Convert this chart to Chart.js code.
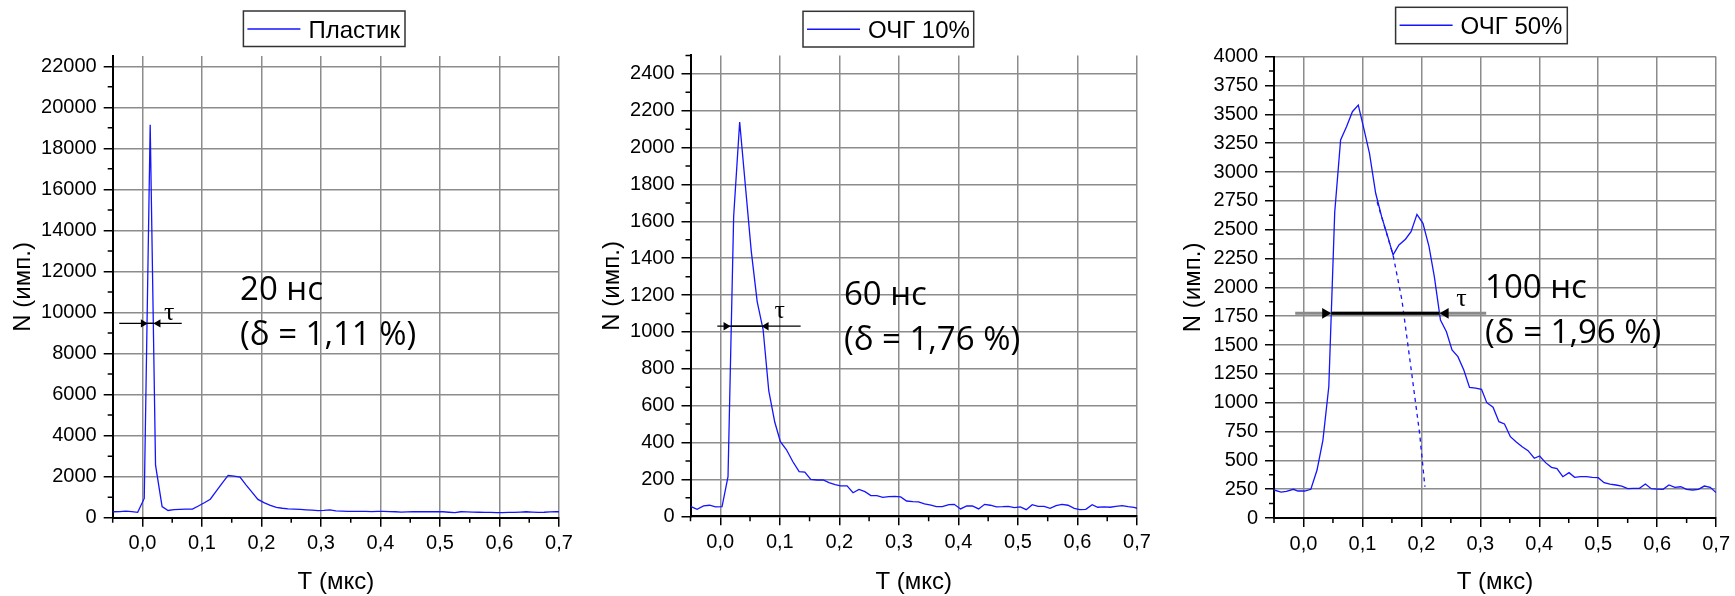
<!DOCTYPE html>
<html>
<head>
<meta charset="utf-8">
<script src="https://cdn.jsdelivr.net/npm/chart.js@4.4.1/dist/chart.umd.min.js"></script>
<style>
  body { margin: 0; background: #fff; width: 1735px; height: 596px; position: relative; overflow: hidden; }
  .box { position: absolute; top: 0; height: 596px; }
</style>
</head>
<body>
<div class="box" style="left:0;width:580px"><canvas id="c1" width="580" height="596"></canvas></div>
<div class="box" style="left:589px;width:570px"><canvas id="c2" width="570" height="596"></canvas></div>
<div class="box" style="left:1170px;width:565px"><canvas id="c3" width="565" height="596"></canvas></div>
<script>
// время, мкс / счёт, имп.
const t1 = [-0.049, -0.038, -0.028, -0.018, -0.008, 0.003, 0.013, 0.022, 0.033, 0.043,
  0.053, 0.063, 0.073, 0.084, 0.094, 0.104, 0.114, 0.124, 0.134, 0.144,
  0.154, 0.164, 0.174, 0.184, 0.194, 0.205, 0.215, 0.225, 0.235, 0.245,
  0.255, 0.265, 0.275, 0.285, 0.295, 0.305, 0.315, 0.325, 0.335, 0.345,
  0.355, 0.365, 0.375, 0.385, 0.395, 0.405, 0.415, 0.425, 0.435, 0.445,
  0.455, 0.465, 0.475, 0.485, 0.495, 0.505, 0.515, 0.525, 0.535, 0.545,
  0.555, 0.565, 0.575, 0.585, 0.595, 0.605, 0.615, 0.625, 0.635, 0.645,
  0.655, 0.665, 0.675, 0.685, 0.695, 0.7];
const n1 = [290, 300, 325, 300, 260, 940, 19150, 2560, 540, 350,
  390, 405, 415, 420, 570, 730, 900, 1290, 1680, 2060,
  2030, 1980, 1600, 1250, 890, 720, 600, 500, 460, 430,
  420, 405, 385, 370, 345, 355, 385, 330, 320, 310,
  305, 310, 305, 300, 305, 310, 300, 290, 275, 285,
  290, 290, 295, 290, 295, 290, 265, 245, 290, 280,
  275, 265, 260, 255, 250, 245, 255, 260, 275, 290,
  275, 260, 265, 280, 290, 290];

const t2 = [-0.049, -0.039, -0.028, -0.018, -0.008, 0.003, 0.013, 0.0225, 0.0326, 0.042,
  0.052, 0.062, 0.072, 0.0815, 0.0916, 0.101, 0.111, 0.122, 0.1325, 0.142,
  0.152, 0.163, 0.173, 0.1825, 0.193, 0.202, 0.213, 0.223, 0.233, 0.243,
  0.253, 0.263, 0.273, 0.283, 0.293, 0.303, 0.313, 0.3235, 0.333, 0.343,
  0.354, 0.363, 0.373, 0.384, 0.393, 0.4036, 0.414, 0.4235, 0.434, 0.444,
  0.4536, 0.464, 0.474, 0.484, 0.494, 0.504, 0.514, 0.524, 0.534, 0.544,
  0.554, 0.564, 0.574, 0.584, 0.5946, 0.604, 0.614, 0.6247, 0.634, 0.6446,
  0.655, 0.6645, 0.675, 0.685, 0.695, 0.702];
const n2 = [52, 38, 56, 60, 51, 52, 215, 1628, 2139, 1800,
  1440, 1165, 1012, 680, 510, 405, 362, 296, 242, 240,
  200, 197, 197, 183, 172, 165, 165, 128, 146, 134,
  112, 112, 103, 107, 108, 105, 83, 80, 78, 67,
  61, 52, 52, 63, 65, 40, 56, 56, 40, 65,
  60, 51, 52, 54, 47, 51, 36, 63, 54, 54,
  43, 58, 65, 60, 43, 36, 38, 63, 49, 51,
  49, 54, 58, 52, 48, 42];

const t3 = [-0.05, -0.038, -0.029, -0.017, -0.0095, 0.002, 0.0125, 0.023, 0.033, 0.043,
  0.053, 0.063, 0.073, 0.083, 0.093, 0.103, 0.112, 0.1225, 0.1326, 0.143,
  0.152, 0.162, 0.173, 0.1825, 0.1925, 0.2027, 0.213, 0.222, 0.2324, 0.2425,
  0.252, 0.262, 0.272, 0.2817, 0.292, 0.302, 0.311, 0.3216, 0.3316, 0.341,
  0.351, 0.361, 0.371, 0.381, 0.3916, 0.4006, 0.4107, 0.4207, 0.430, 0.440,
  0.4505, 0.46, 0.47, 0.48, 0.49, 0.50, 0.51, 0.52, 0.53, 0.54,
  0.55, 0.56, 0.57, 0.58, 0.59, 0.60, 0.61, 0.62, 0.63, 0.64,
  0.65, 0.66, 0.67, 0.68, 0.69, 0.70];
const n3 = [243, 225, 231, 249, 234, 234, 249, 416, 676, 1140,
  2650, 3278, 3393, 3523, 3581, 3364, 3162, 2816, 2613, 2440,
  2281, 2367, 2417, 2483, 2633, 2555, 2353, 2093, 1717, 1615,
  1457, 1399, 1283, 1133, 1127, 1116, 1000, 960, 835, 815,
  705, 659, 618, 584, 518, 538, 480, 439, 428, 358,
  393, 353, 358, 358, 353, 350, 306, 294, 286, 277,
  254, 257, 257, 294, 254, 251, 249, 286, 266, 271,
  249, 243, 249, 277, 266, 220];
// продолжение спада первого пика (пунктир)
const tFit3 = [0.125, 0.152, 0.167, 0.185, 0.197, 0.206];
const nFit3 = [2740, 2281, 1890, 1200, 734, 271];

const xTicks = [0, 0.1, 0.2, 0.3, 0.4, 0.5, 0.6, 0.7];
const yTicks1 = [0, 2000, 4000, 6000, 8000, 10000, 12000, 14000, 16000, 18000, 20000, 22000];
const yTicks2 = [0, 200, 400, 600, 800, 1000, 1200, 1400, 1600, 1800, 2000, 2200, 2400];
const yTicks3 = [0, 250, 500, 750, 1000, 1250, 1500, 1750, 2000, 2250, 2500, 2750, 3000, 3250, 3500, 3750, 4000];

const BLUE = '#1414ff';
const pts = (t, n) => t.map((v, i) => ({ x: v, y: n[i] }));
const mids = a => a.slice(1).map((v, i) => (v + a[i]) / 2);

Chart.defaults.font.family = "'Liberation Sans', Arial, sans-serif";
Chart.defaults.color = '#000';

// рамка легенды как в Origin
const boxLegend = {
  id: 'boxLegend',
  afterDraw(chart, args, o) {
    const ctx = chart.ctx;
    const ds = chart.data.datasets[0];
    ctx.save();
    ctx.strokeStyle = '#333';
    ctx.lineWidth = 1.5;
    ctx.strokeRect(o.x, o.y, o.w, o.h);
    ctx.strokeStyle = ds.borderColor;
    ctx.lineWidth = 1.5;
    ctx.beginPath();
    ctx.moveTo(o.x + 4, o.y + 18);
    ctx.lineTo(o.x + 57, o.y + 18);
    ctx.stroke();
    ctx.fillStyle = '#000';
    ctx.font = "24px 'Liberation Sans', Arial";
    ctx.textBaseline = 'alphabetic';
    ctx.fillText(ds.label, o.x + 65, o.y + 27);
    ctx.restore();
  }
};

const minorTicks = {
  id: 'minorTicks',
  afterDraw(chart, args, o) {
    const { ctx, chartArea: a, scales: { x, y } } = chart;
    ctx.save();
    ctx.strokeStyle = '#000';
    ctx.lineWidth = 1.5;
    ctx.beginPath();
    o.x.forEach(v => { const p = x.getPixelForValue(v); ctx.moveTo(p, a.bottom); ctx.lineTo(p, a.bottom + 5); });
    o.y.forEach(v => { const p = y.getPixelForValue(v); ctx.moveTo(a.left, p); ctx.lineTo(a.left - 5, p); });
    ctx.stroke();
    ctx.restore();
  }
};

// стрелки τ и подписи
const marks = {
  id: 'marks',
  afterDatasetsDraw(chart, args, o) {
    const { ctx, scales: { x, y } } = chart;
    const py = y.getPixelForValue(o.level);
    const x0 = x.getPixelForValue(o.from), x1 = x.getPixelForValue(o.to);
    const ta = x.getPixelForValue(o.tipL), tb = x.getPixelForValue(o.tipR);
    ctx.save();
    ctx.lineWidth = o.lw;
    ctx.strokeStyle = o.color;
    ctx.beginPath(); ctx.moveTo(x0, py); ctx.lineTo(x1, py); ctx.stroke();
    ctx.strokeStyle = '#000';
    ctx.beginPath(); ctx.moveTo(ta, py); ctx.lineTo(tb, py); ctx.stroke();
    ctx.fillStyle = '#000';
    const hl = o.head, hw = o.head * 0.6;
    ctx.beginPath();
    ctx.moveTo(ta, py); ctx.lineTo(ta - hl, py - hw); ctx.lineTo(ta - hl, py + hw); ctx.closePath();
    ctx.moveTo(tb, py); ctx.lineTo(tb + hl, py - hw); ctx.lineTo(tb + hl, py + hw); ctx.closePath();
    ctx.fill();
    ctx.font = "26px 'Liberation Serif', 'Times New Roman', serif";
    ctx.textAlign = 'center';
    ctx.textBaseline = 'middle';
    ctx.fillText('τ', x.getPixelForValue(o.tauX), y.getPixelForValue(o.tauY));
    ctx.font = "33px 'Open Sans', sans-serif";
    ctx.textAlign = 'left';
    ctx.textBaseline = 'alphabetic';
    const tx = x.getPixelForValue(o.textX), ty = y.getPixelForValue(o.textY);
    o.lines.forEach((s, i) => ctx.fillText(s, tx, ty + i * 45));
    ctx.restore();
  }
};

function build(id, o) {
  const grid = { color: '#8c8c8c', lineWidth: 1.5, tickColor: '#000', tickWidth: 1.5, tickLength: 9 };
  const border = { color: '#000', width: 2 };
  return new Chart(document.getElementById(id), {
    type: 'line',
    data: { datasets: o.sets },
    options: {
      responsive: false,
      animation: false,
      events: [],
      layout: { padding: { top: o.top, right: o.right, bottom: 0, left: 0 } },
      elements: { point: { radius: 0 }, line: { tension: 0 } },
      plugins: {
        legend: { display: false },
        tooltip: { enabled: false },
        boxLegend: o.legend,
        minorTicks: { x: [-0.05].concat(mids(xTicks)), y: o.yMinor },
        marks: o.marks
      },
      scales: {
        x: {
          type: 'linear', min: -0.05, max: 0.7,
          afterBuildTicks: s => { s.ticks = xTicks.map(v => ({ value: v })); },
          afterFit: s => { s.height = o.xh; },
          grid, border,
          ticks: { autoSkip: false, maxRotation: 0, padding: 5, font: { size: 20 },
            callback: v => v.toFixed(1).replace('.', ',') },
          title: { display: true, text: 'T (мкс)', font: { size: 24, lineHeight: 1.1 }, padding: { top: 0, bottom: 0 } }
        },
        y: {
          type: 'linear', min: 0, max: o.yMax,
          afterBuildTicks: s => { s.ticks = o.yTicks.map(v => ({ value: v })); },
          afterFit: s => { s.width = o.yw; },
          grid, border,
          ticks: { autoSkip: false, padding: 7, font: { size: 20 }, callback: v => String(v) },
          title: { display: true, text: 'N (имп.)', font: { size: 24, lineHeight: 1.1 }, padding: { top: 10, bottom: 0 } }
        }
      }
    },
    plugins: [boxLegend, minorTicks, marks]
  });
}

const lineSet = (label, t, n) => ({ label, data: pts(t, n), borderColor: BLUE, borderWidth: 1.3, fill: false });

build('c1', {
  sets: [lineSet('Пластик', t1, n1)],
  top: 56, right: 21, yw: 112.7, xh: 596 - 517.7,
  yMax: 22500, yTicks: yTicks1, yMinor: mids(yTicks1),
  legend: { x: 243.4, y: 11, w: 161.6, h: 35.5 },
  marks: { level: 9470, from: -0.039, to: 0.066, tipL: 0.0091, tipR: 0.0185, color: '#000', lw: 1.3, head: 7,
    tauX: 0.045, tauY: 9950, textX: 0.164, textY: 10600, lines: ['20 нс', '(δ = 1,11 %)'] }
});

build('c2', {
  sets: [lineSet('ОЧГ 10%', t2, n2)],
  top: 55.4, right: 22, yw: 101.5, xh: 596 - 516.3,
  yMax: 2500, yTicks: yTicks2, yMinor: mids(yTicks2).concat([2500]),
  legend: { x: 214, y: 11.3, w: 170.7, h: 35.7 },
  marks: { level: 1031, from: -0.005, to: 0.135, tipL: 0.0173, tipR: 0.0694, color: '#000', lw: 1.3, head: 7,
    tauX: 0.1, tauY: 1114, textX: 0.2077, textY: 1146, lines: ['60 нс', '(δ = 1,76 %)'] }
});

build('c3', {
  sets: [
    lineSet('ОЧГ 50%', t3, n3),
    { label: '', data: pts(tFit3, nFit3), borderColor: BLUE, borderWidth: 1.3, borderDash: [4, 4], fill: false }
  ],
  top: 56.7, right: 14.5, yw: 104, xh: 596 - 518,
  yMax: 4000, yTicks: yTicks3, yMinor: mids(yTicks3),
  legend: { x: 225.6, y: 7.3, w: 171.7, h: 36.4 },
  marks: { level: 1775, from: -0.014, to: 0.31, tipL: 0.047, tipR: 0.231, color: '#8a8a8a', lw: 3, head: 9,
    tauX: 0.268, tauY: 1899, textX: 0.308, textY: 1908, lines: ['100 нс', '(δ = 1,96 %)'] }
});
</script>
</body>
</html>
